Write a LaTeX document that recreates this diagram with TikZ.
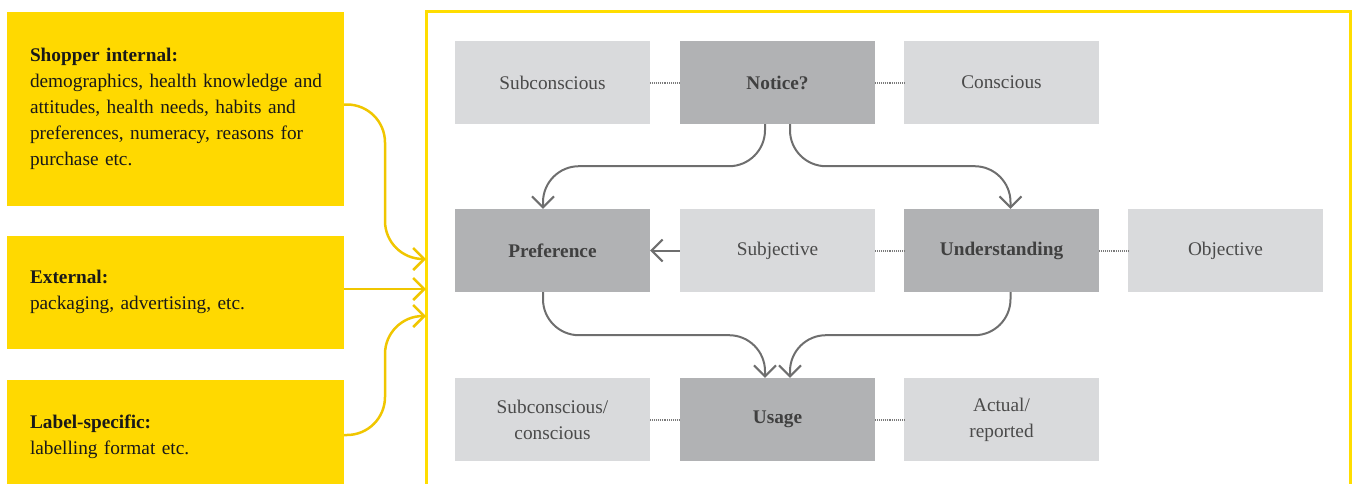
\documentclass[tikz,border=0pt]{standalone}
\usepackage{fontspec}
\setmainfont{Liberation Serif}
\usetikzlibrary{arrows.meta,positioning}
\definecolor{ybox}{HTML}{FFD900}
\definecolor{yframe}{HTML}{FFDD00}
\definecolor{yarrow}{HTML}{F0C600}
\definecolor{glight}{HTML}{D9DADC}
\definecolor{gdark}{HTML}{B1B2B4}
\definecolor{gline}{HTML}{6E6E6E}
\definecolor{gtext}{HTML}{4A4A4A}
\definecolor{gdot}{HTML}{7A7A7A}
\tikzset{
  ylbox/.style={fill=ybox, minimum width=337pt, text width=291pt, inner xsep=23pt, inner ysep=0pt,
    align=left, font=\fontsize{19.3}{26}\selectfont, text=black!90},
  lbox/.style={fill=glight, minimum width=195pt, minimum height=83pt, inner sep=0pt, align=center,
    font=\fontsize{19.3}{26}\selectfont, text=gtext},
  dbox/.style={lbox, fill=gdark, font=\fontsize{19.3}{26}\selectfont\bfseries, text=black!75},
  dotline/.style={draw=gdot, line width=2pt, dash pattern=on 1pt off 0.9pt},
  garrow/.style={draw=gline, line width=2pt, -{Straight Barb[length=11pt,width=22pt,line width=2pt]}},
  yarr/.style={draw=yarrow, line width=2.5pt, -{Straight Barb[length=11pt,width=22pt,line width=2.5pt]}},
}
\begin{document}
\begin{tikzpicture}[x=1pt,y=-1pt]
\useasboundingbox (0,0) rectangle (1357,483);
% yellow frame
\draw[yframe, line width=3pt] (426,500) -- (426,11.5) -- (1350,11.5) -- (1350,500);
% left boxes
\node[ylbox, minimum height=194pt] (shop) at (175.5,108.5) {\textbf{Shopper internal:}\\\mbox{demographics, health knowledge and}\\\mbox{attitudes, health needs, habits and}\\\mbox{preferences, numeracy, reasons for}\\purchase etc.};
\node[ylbox, minimum height=113pt] (ext) at (175.5,292) {\textbf{External:}\\packaging, advertising, etc.};
\node[ylbox, minimum height=114pt] (lab) at (175.5,437) {\textbf{Label-specific:}\\labelling format etc.};
% gray boxes
\node[lbox] (sub) at (552.5,82.5) {Subconscious};
\node[dbox] (notice) at (777.5,82.5) {Notice?};
\node[lbox] (con) at (1001.5,82.5) {Conscious};
\node[dbox] (pref) at (552.5,250.5) {Preference};
\node[lbox] (subj) at (777.5,250.5) {Subjective};
\node[dbox] (und) at (1001.5,250.5) {Understanding};
\node[lbox] (obj) at (1225.5,250.5) {Objective};
\node[lbox] (subcon) at (552.5,419.5) {Subconscious/\\conscious};
\node[dbox] (usage) at (777.5,419.5) {Usage};
\node[lbox] (act) at (1001.5,419.5) {Actual/\\reported};
% dotted links
\draw[dotline] (sub.east) -- (notice.west);
\draw[dotline] (notice.east) -- (con.west);
\draw[dotline] (subj.east) -- (und.west);
\draw[dotline] (und.east) -- (obj.west);
\draw[dotline] (subcon.east) -- (usage.west);
\draw[dotline] (usage.east) -- (act.west);
% gray arrows
\draw[garrow] (subj.west) -- (pref.east);
\draw[garrow, rounded corners=36pt] ([xshift=-12.5pt]notice.south) -- ++(0,42) -| ([xshift=-9.5pt]pref.north);
\draw[garrow, rounded corners=36pt] ([xshift=12.5pt]notice.south) -- ++(0,42) -| ([xshift=9pt]und.north);
\draw[garrow, rounded corners=36pt] ([xshift=-9.5pt]pref.south) -- ++(0,43) -| ([xshift=-12.5pt]usage.north);
\draw[garrow, rounded corners=36pt] ([xshift=9pt]und.south) -- ++(0,43) -| ([xshift=12.5pt]usage.north);
% yellow arrows
\coordinate (fa) at (426,259);
\coordinate (fb) at (426,289);
\coordinate (fc) at (426,316);
\draw[yarr, rounded corners=38pt] ([yshift=4pt]shop.east) -| (385,259) -- (fa);
\draw[yarr] (ext.east |- fb) -- (fb);
\draw[yarr, rounded corners=38pt] ([yshift=2pt]lab.east) -| (385,316) -- (fc);
\end{tikzpicture}
\end{document}
